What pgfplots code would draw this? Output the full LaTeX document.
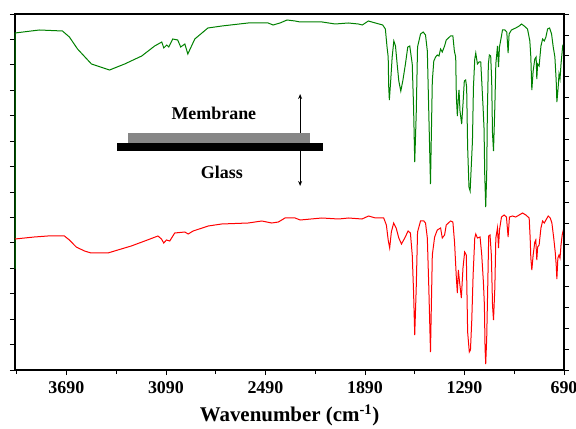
\documentclass[border=0pt]{standalone}
\usepackage{pgfplots}
\pgfplotsset{compat=1.18}
\usepackage{pgfplotstable}
\usepackage{fontspec}
\setmainfont{Liberation Serif}
\usetikzlibrary{arrows.meta}
\definecolor{specgreen}{RGB}{0,128,0}

\pgfplotstableread{
wn y
4000 101
4000 337
3853 340
3714 339
3672 333
3623 321
3539 306
3430 300
3339 306
3236 314
3158 324
3115 328
3103 322
3085 325
3073 323
3049 331
3019 330
3001 323
2976 326
2958 316
2916 331
2837 342
2753 344
2595 347
2474 347
2444 345
2402 347
2360 350
2311 349
2281 348
2148 348
2069 346
1991 347
1930 346
1906 345
1870 349
1827 347
1783 345
1767 341
1757 323
1750 313
1747 284
1743 270
1735 289
1726 313
1716 329
1706 324
1696 306
1686 289
1674 279
1662 289
1646 306
1632 323
1620 324
1605 306
1597 263
1590 208
1581 256
1573 323
1555 336
1539 338
1525 335
1514 319
1505 256
1495 186
1484 289
1475 309
1464 313
1454 315
1444 314
1434 321
1424 318
1410 324
1400 330
1374 334
1360 334
1351 319
1343 313
1339 273
1333 254
1327 273
1323 280
1317 259
1307 246
1299 266
1291 289
1283 290
1277 283
1271 223
1263 183
1256 179
1242 229
1236 283
1228 311
1222 317
1212 306
1202 308
1192 308
1186 289
1178 263
1172 241
1168 196
1162 163
1156 196
1152 259
1146 306
1140 315
1132 314
1126 289
1121 236
1115 219
1107 263
1101 306
1091 324
1085 303
1079 323
1067 334
1061 340
1047 340
1035 338
1027 317
1021 336
1007 340
995 341
981 342
960 344
946 346
930 344
910 341
896 329
890 313
884 280
876 299
866 311
858 313
854 291
849 306
840 304
829 324
819 331
809 329
799 333
789 341
777 342
765 336
755 323
745 313
737 289
733 268
725 283
720 296
714 291
708 306
698 324
692 326
690 328
}\greendata

\pgfplotstableread{
wn y
4000 131
3884 133
3803 134
3702 134
3672 130
3631 123
3581 119
3541 117
3440 117
3380 120
3299 124
3218 129
3138 134
3117 131
3103 127
3087 130
3067 129
3037 137
2976 138
2956 136
2926 139
2835 144
2754 146
2594 147
2512 149
2452 147
2412 148
2372 152
2311 152
2281 150
2150 152
2049 151
1989 152
1908 151
1868 154
1827 152
1777 152
1761 145
1750 130
1741 122
1731 138
1717 147
1702 142
1686 132
1670 126
1650 132
1630 139
1616 137
1605 115
1597 78
1590 35
1581 82
1573 138
1555 149
1535 149
1525 147
1514 132
1505 82
1495 18
1484 115
1470 133
1454 140
1434 142
1424 132
1410 135
1400 145
1374 149
1360 148
1350 128
1339 92
1333 77
1327 100
1319 87
1309 72
1299 102
1289 118
1279 115
1271 38
1261 18
1254 20
1246 50
1238 95
1228 132
1222 136
1212 132
1196 133
1186 115
1176 88
1170 65
1166 22
1162 6
1156 32
1150 82
1144 134
1136 135
1128 115
1121 65
1115 50
1107 82
1101 132
1091 142
1085 122
1079 140
1067 153
1051 155
1037 153
1027 133
1019 153
1001 154
981 153
960 155
940 157
920 155
900 152
894 132
890 112
884 100
876 115
866 128
860 130
854 110
849 123
840 125
829 142
819 149
809 147
799 150
785 154
773 152
763 147
752 132
743 118
737 105
733 91
727 112
720 115
714 112
708 125
701 135
694 140
690 142
}\reddata

\begin{document}
\begin{tikzpicture}
\pgfplotsset{
  every axis/.style={
    scale only axis, width=549bp, height=356bp,
    xmin=690, xmax=4000, x dir=reverse,
    ymin=0, ymax=356,
    tick align=outside,
    major tick length=5bp, minor tick length=4bp,
    every tick/.style={black, line width=0.8bp},
  }
}
\begin{axis}[
  name=ax,
  set layers=standard,
  clip=false,
  axis line style={line width=1.1bp},
  xtick={3690,3090,2490,1890,1290,690},
  xticklabels={3690,3090,2490,1890,1290,690},
  minor xtick={3990,3390,2790,2190,1590,990},
  xtick pos=bottom,
  ytick={0,25.43,50.86,76.29,101.71,127.14,152.57,178,203.43,228.86,254.29,279.71,305.14,330.57,356},
  ytick pos=left,
  yticklabels={},
  tick label style={font=\fontsize{18}{18}\selectfont\bfseries},
  xticklabel style={yshift=-3bp},
  xlabel={Wavenumber (cm\textsuperscript{-1})},
  xlabel style={font=\fontsize{21}{21}\selectfont\bfseries, yshift=-4bp},
]
\addplot[specgreen, line width=1bp] table[x=wn,y=y] {\greendata};
\addplot[red, line width=1bp] table[x=wn,y=y] {\reddata};
% inset sketch
\draw[line width=0.9bp, {Stealth[length=5bp,width=4bp]}-{Stealth[length=5bp,width=4bp]}] (axis cs:2281,276) -- (axis cs:2281,184);
\fill[black] (axis cs:3388,219) rectangle (axis cs:2142,227);
\fill[gray!95] (axis cs:3321,227) rectangle (axis cs:2220,237);
\node[font=\fontsize{18}{18}\selectfont\bfseries] at (axis cs:2801,257) {Membrane};
\node[font=\fontsize{18}{18}\selectfont\bfseries] at (axis cs:2753,198) {Glass};
\end{axis}
\begin{axis}[
  axis x line=none,
  axis y line*=right,
  axis line style={line width=1.1bp},
  ytick={0,20.94,41.88,62.82,83.76,104.71,125.65,146.59,167.53,188.47,209.41,230.35,251.29,272.24,293.18,314.12,335.06,356},
  yticklabels={},
]
\end{axis}
\pgfresetboundingbox
\path[use as bounding box] ([xshift=-15bp,yshift=-59bp]ax.south west) rectangle ([xshift=12bp,yshift=14bp]ax.north east);
\end{tikzpicture}
\end{document}
